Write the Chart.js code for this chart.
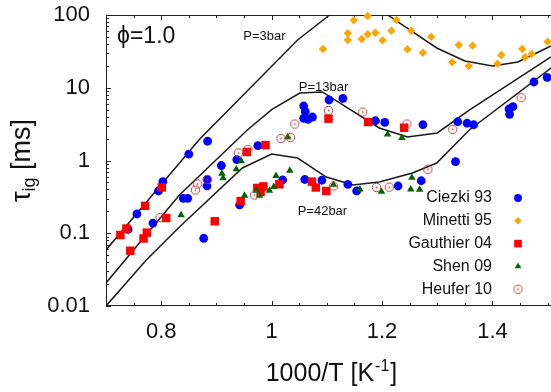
<!DOCTYPE html>
<html lang="en">
<head>
<meta charset="UTF-8">
<title>Ignition delay times, phi=1.0</title>
<script src="https://cdn.jsdelivr.net/npm/chart.js"></script>
<style>
  html, body { margin: 0; padding: 0; background: #fff; }
  #wrap { width: 551px; height: 392px; }
</style>
</head>
<body>
<div id="wrap"><canvas id="chart" width="551" height="392"></canvas></div>
<script>
// measured points, x = 1000/T [1/K], y = ignition delay [ms]
const ciezkiX = [0.740, 0.756, 0.785, 0.795, 0.803, 0.840, 0.848, 0.850, 0.877, 0.883, 0.883, 0.884, 0.909, 0.937,
  0.942, 0.975, 1.020, 1.058, 1.061, 1.058, 1.066, 1.074, 1.060, 1.091, 1.104, 1.129, 1.138, 1.154, 1.188, 1.205,
  1.229, 1.271, 1.274, 1.333, 1.337, 1.354, 1.366, 1.430, 1.437, 1.431, 1.475, 1.499];
const ciezkiY = [0.113, 0.184, 0.138, 0.381, 0.512, 0.302, 0.302, 1.22, 0.0853, 0.548, 0.446, 1.84, 0.853, 1.03,
  0.245, 1.60, 0.540, 5.61, 4.69, 3.80, 3.68, 3.96, 0.548, 0.535, 6.79, 7.12, 0.471, 0.381, 3.52, 3.35,
  0.446, 0.527, 3.10, 0.964, 3.41, 3.25, 3.10, 5.10, 5.49, 4.32, 12.0, 13.9];

const minettiX = [1.093, 1.138, 1.138, 1.149, 1.163, 1.174, 1.174, 1.188, 1.201, 1.217, 1.226, 1.253, 1.246,
  1.274, 1.289, 1.327, 1.339, 1.357, 1.364, 1.409, 1.416, 1.454, 1.459, 1.471, 1.500];
const minettiY = [34.1, 56.1, 45.3, 84.6, 46.8, 96.9, 54.3, 57.1, 44.9, 60.8, 85.4, 60.8, 33.8,
  30.3, 50.3, 22.4, 38.7, 19.9, 37.9, 21.4, 28.2, 34.1, 26.2, 29.1, 43.0];

const gauthierX = [0.726, 0.737, 0.744, 0.771, 0.768, 0.774, 0.801, 0.809, 0.897, 0.944, 0.955, 0.974, 0.985,
  0.980, 0.989, 1.014, 1.073, 1.080, 1.099, 1.103, 1.175, 1.240];
const gauthierY = [0.0946, 0.116, 0.0575, 0.238, 0.0847, 0.102, 0.426, 0.162, 0.146, 0.277, 1.31, 0.419, 0.440,
  0.369, 1.63, 0.471, 0.512, 0.426, 0.381, 3.76, 3.38, 2.82];

const shenX = [0.836, 0.910, 0.912, 0.936, 0.945, 0.951, 0.972, 0.978, 0.996, 1.004, 1.008, 1.029, 1.033,
  1.112, 1.160, 1.199, 1.210, 1.236, 1.252, 1.254, 1.268];
const shenY = [0.178, 0.663, 0.575, 0.759, 0.984, 0.330, 0.385, 0.328, 0.387, 0.436, 0.616, 2.10, 0.729,
  0.465, 0.402, 0.375, 2.28, 2.05, 0.402, 0.580, 0.399];

const heuferX = [0.798, 0.862, 0.866, 0.884, 0.940, 0.957, 0.969, 1.017, 1.034, 1.042, 1.103, 1.112, 1.165,
  1.190, 1.213, 1.245, 1.283, 1.328, 1.452];
const heuferY = [0.164, 0.393, 0.475, 0.548, 1.27, 1.42, 0.336, 2.01, 2.07, 3.17, 4.87, 0.446, 4.64,
  0.426, 0.430, 3.17, 0.757, 2.68, 7.30];

// simulated curves
const p3X = [0.700, 0.869, 1.047, 1.105, 1.130, 1.165, 1.210, 1.299, 1.350, 1.400, 1.446, 1.491, 1.506];
const p3Y = [0.0589, 1.95, 45.3, 100, 145, 165, 100, 35.2, 23.3, 19.9, 22.6, 33.0, 37.5];
const p13X = [0.700, 0.833, 0.956, 1.000, 1.051, 1.092, 1.195, 1.246, 1.300, 1.358, 1.506];
const p13Y = [0.0207, 0.336, 2.63, 5.0, 8.47, 8.75, 2.80, 2.10, 2.39, 4.94, 26.5];
const p42X = [0.700, 0.773, 0.833, 0.947, 1.000, 1.047, 1.099, 1.147, 1.195, 1.255, 1.299, 1.358, 1.506];
const p42Y = [0.0100, 0.0429, 0.122, 0.789, 1.23, 1.08, 0.593, 0.460, 0.506, 0.673, 0.924, 2.63, 18.7];

const curveLabels = ['P=3bar', 'P=13bar', 'P=42bar'];
const curveLabelX = [0.987, 1.094, 1.092];
const curveLabelY = [51.4, 10.2, 0.202];

const xTicks = [0.8, 1.0, 1.2, 1.4];
const xMinor = [0.75, 0.85, 0.9, 0.95, 1.05, 1.1, 1.15, 1.25, 1.3, 1.35, 1.45, 1.5];
const yTicks = [0.01, 0.1, 1, 10, 100];

const FONT = '"Liberation Sans", Arial, Helvetica, sans-serif';

function pts(xs, ys) {
    return xs.map((x, i) => ({ x: x, y: ys[i] }));
}

// open circle with a dot in it (Heufer 10)
function ringStyle(color) {
    const c = document.createElement('canvas');
    c.width = 11; c.height = 11;
    const g = c.getContext('2d');
    g.strokeStyle = color;
    g.lineWidth = 1;
    g.beginPath(); g.arc(5.5, 5.5, 4.2, 0, Math.PI * 2); g.stroke();
    g.fillStyle = color;
    g.beginPath(); g.arc(5.5, 5.5, 0.9, 0, Math.PI * 2); g.fill();
    return c;
}

function markers(label, xs, ys, color, style, r, order) {
    return {
        label: label, data: pts(xs, ys), order: order, clip: false,
        pointStyle: style, pointRadius: r, pointHoverRadius: r,
        backgroundColor: color, borderColor: color, pointBorderWidth: 0, showLine: false
    };
}

function curve(label, xs, ys) {
    return {
        label: label, data: pts(xs, ys), order: 9, clip: 0, showLine: true,
        borderColor: '#1a1a1a', borderWidth: 1.5, pointRadius: 0, fill: false, tension: 0
    };
}

const seriesList = [
    markers('Ciezki 93', ciezkiX, ciezkiY, '#0000ff', 'circle', 4.4, 5),
    markers('Minetti 95', minettiX, minettiY, '#ffa500', 'rectRot', 4.2, 4),
    markers('Gauthier 04', gauthierX, gauthierY, '#ff0000', 'rect', 6, 3),
    markers('Shen 09', shenX, shenY, '#006400', 'triangle', 4.3, 2),
    markers('Heufer 10', heuferX, heuferY, '#b5433f', ringStyle('#b5433f'), 5.5, 1)
];

// border with inward ticks, like the original plot
const frame = {
    id: 'frame',
    beforeDatasetsDraw(chart) {
        const { ctx, chartArea: a, scales: { x, y } } = chart;
        ctx.save();
        ctx.strokeStyle = '#222';
        ctx.lineWidth = 1;
        ctx.beginPath();
        ctx.moveTo(a.right, a.top + 0.5);
        ctx.lineTo(a.left + 0.5, a.top + 0.5);
        ctx.lineTo(a.left + 0.5, a.bottom - 0.5);
        ctx.lineTo(a.right, a.bottom - 0.5);
        const xt = (v, len) => {
            const px = Math.round(x.getPixelForValue(v)) + 0.5;
            ctx.moveTo(px, a.bottom); ctx.lineTo(px, a.bottom - len);
            ctx.moveTo(px, a.top); ctx.lineTo(px, a.top + len);
        };
        xTicks.forEach(v => xt(v, 5));
        xMinor.forEach(v => xt(v, 3));
        const yt = (v, len) => {
            const py = Math.round(y.getPixelForValue(v)) + 0.5;
            ctx.moveTo(a.left, py); ctx.lineTo(a.left + len, py);
        };
        yTicks.forEach((d, i) => {
            yt(d, 5);
            if (i < yTicks.length - 1) {
                for (let k = 2; k <= 9; k++) yt(d * k, 3);
            }
        });
        ctx.stroke();
        ctx.restore();
    },
    afterDraw(chart) {
        const { ctx, chartArea: a, scales: { x, y } } = chart;
        ctx.save();
        ctx.fillStyle = '#111';

        // curve labels
        ctx.font = '13px ' + FONT;
        ctx.textAlign = 'center';
        ctx.textBaseline = 'middle';
        curveLabels.forEach((t, i) => {
            ctx.fillText(t, x.getPixelForValue(curveLabelX[i]), y.getPixelForValue(curveLabelY[i]));
        });

        // phi
        ctx.font = '23px ' + FONT;
        ctx.textAlign = 'left';
        ctx.fillText('\u03D5=1.0', x.getPixelForValue(0.72), y.getPixelForValue(49.9));

        // legend, text right aligned, symbol to its right
        ctx.font = '16px ' + FONT;
        ctx.textAlign = 'right';
        seriesList.forEach((s, i) => {
            const ty = a.top + 183 + i * 22.8;
            ctx.fillStyle = '#111';
            ctx.fillText(s.label, a.right - 59, ty);
            ctx.fillStyle = s.backgroundColor;
            Chart.helpers.drawPoint(ctx, {
                pointStyle: s.pointStyle, radius: s.pointRadius * 0.9, borderWidth: 0, rotation: 0
            }, a.right - 33, ty);
        });

        // x axis title 1000/T [K^-1]
        ctx.fillStyle = '#111';
        ctx.textAlign = 'left';
        ctx.textBaseline = 'alphabetic';
        const big = '25px ' + FONT, small = '16px ' + FONT;
        ctx.font = big;
        const t1 = '1000/T [K', t3 = ']';
        const w1 = ctx.measureText(t1).width, w3 = ctx.measureText(t3).width;
        ctx.font = small;
        const w2 = ctx.measureText('-1').width;
        let sx = (a.left + a.right) / 2 + 2 - (w1 + w2 + w3) / 2;
        const by = 381;
        ctx.font = big; ctx.fillText(t1, sx, by);
        ctx.font = small; ctx.fillText('-1', sx + w1 + 1, by - 10);
        ctx.font = big; ctx.fillText(t3, sx + w1 + w2 + 2, by);

        // y axis title tau_ig [ms]
        const ybig = '27px ' + FONT, ysmall = '18px ' + FONT;
        ctx.translate(23, (a.top + a.bottom) / 2);
        ctx.rotate(-Math.PI / 2);
        ctx.textBaseline = 'middle';
        ctx.font = ybig;
        const wt = ctx.measureText('\u03C4').width, wr = ctx.measureText(' [ms]').width;
        ctx.font = ysmall;
        const ws = ctx.measureText('ig').width;
        let ox = -(wt + ws + wr) / 2;
        ctx.font = ybig; ctx.fillText('\u03C4', ox, 0);
        ctx.font = ysmall; ctx.fillText('ig', ox + wt, 7);
        ctx.font = ybig; ctx.fillText(' [ms]', ox + wt + ws, 0);
        ctx.restore();
    }
};

new Chart(document.getElementById('chart'), {
    type: 'scatter',
    data: {
        datasets: seriesList.concat([
            curve('P=3bar', p3X, p3Y),
            curve('P=13bar', p13X, p13Y),
            curve('P=42bar', p42X, p42Y)
        ])
    },
    options: {
        responsive: false,
        animation: false,
        devicePixelRatio: 1,
        layout: { autoPadding: false, padding: { top: 15, right: 0, left: 0, bottom: 0 } },
        plugins: { legend: { display: false }, tooltip: { enabled: false } },
        scales: {
            x: {
                type: 'linear', min: 0.7, max: 1.506,
                grid: { display: false, drawTicks: false },
                border: { display: false },
                afterBuildTicks: s => { s.ticks = xTicks.map(v => ({ value: v })); },
                afterFit: s => { s.height = 86; s.paddingLeft = 0; s.paddingRight = 0; },
                ticks: {
                    padding: 13, color: '#111', autoSkip: false, maxRotation: 0,
                    font: { family: FONT, size: 22 },
                    callback: v => String(v)
                }
            },
            y: {
                type: 'logarithmic', min: 0.01, max: 100,
                grid: { display: false, drawTicks: false },
                border: { display: false },
                afterBuildTicks: s => { s.ticks = yTicks.map(v => ({ value: v })); },
                afterFit: s => { s.width = 106; s.paddingTop = 0; s.paddingBottom = 0; },
                ticks: {
                    padding: 16, color: '#111', autoSkip: false,
                    font: { family: FONT, size: 22 },
                    callback: v => String(v)
                }
            }
        }
    },
    plugins: [frame]
});
</script>
</body>
</html>
